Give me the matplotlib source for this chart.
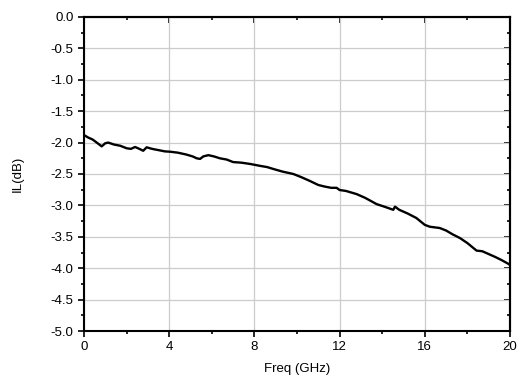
import matplotlib
matplotlib.use("Agg")
import matplotlib.pyplot as plt
from matplotlib.ticker import MultipleLocator

plt.rcParams["font.family"] = ["Liberation Sans", "DejaVu Sans"]
plt.rcParams["axes.unicode_minus"] = False

freq_ghz = [0.0, 0.2, 0.4, 0.6, 0.83, 1.0, 1.14, 1.4, 1.7, 2.0, 2.2, 2.4, 2.6, 2.78, 2.94,
            3.2, 3.5, 3.8, 4.04, 4.4, 4.8, 5.1, 5.29, 5.45, 5.6, 5.84, 6.1, 6.38, 6.7,
            7.0, 7.4, 7.8, 8.26, 8.6, 8.89, 9.3, 9.83, 10.2, 10.6, 11.0, 11.3, 11.6,
            11.86, 12.0, 12.3, 12.8, 13.2, 13.74, 14.1, 14.52, 14.6, 14.8, 15.2, 15.6,
            16.0, 16.24, 16.7, 17.0, 17.3, 17.65, 18.0, 18.43, 18.7, 18.9, 19.3, 19.6,
            19.92, 20.0]
il_db = [-1.88, -1.92, -1.95, -2.0, -2.06, -2.01, -2.0, -2.03, -2.05, -2.09, -2.1, -2.07,
         -2.1, -2.13, -2.075, -2.1, -2.12, -2.14, -2.145, -2.16, -2.19, -2.22, -2.25, -2.26,
         -2.22, -2.2, -2.22, -2.25, -2.27, -2.31, -2.32, -2.34, -2.37, -2.39, -2.42, -2.46,
         -2.5, -2.55, -2.61, -2.675, -2.7, -2.72, -2.72, -2.755, -2.77, -2.82, -2.88,
         -2.98, -3.02, -3.07, -3.02, -3.07, -3.13, -3.2, -3.31, -3.34, -3.36, -3.4, -3.46,
         -3.52, -3.6, -3.72, -3.73, -3.76, -3.82, -3.87, -3.93, -3.95]

fig = plt.figure(figsize=(5.25, 3.85), dpi=100)
ax = fig.add_axes([84 / 525, 1 - 331 / 385, 426 / 525, 314 / 385])

ax.plot(freq_ghz, il_db, color="black", linewidth=1.7)

ax.set_xlim(0, 20)
ax.set_ylim(-5.0, 0.0)
ax.xaxis.set_major_locator(MultipleLocator(4))
ax.xaxis.set_minor_locator(MultipleLocator(2))
ax.yaxis.set_major_locator(MultipleLocator(0.5))
ax.yaxis.set_minor_locator(MultipleLocator(0.25))
ax.yaxis.set_major_formatter(matplotlib.ticker.FormatStrFormatter("%.1f"))

ax.grid(True, which="major", color="#cccccc", linewidth=0.9)
ax.set_axisbelow(True)

for s in ax.spines.values():
    s.set_linewidth(1.5)

ax.tick_params(which="both", direction="out", width=1.2, labelsize=9.5,
               top=False, right=False)
ax.tick_params(which="major", length=4)
ax.tick_params(which="minor", length=2.5)

# inward ticks on top and right edges
ax_top = ax.secondary_xaxis("top")
ax_top.xaxis.set_major_locator(MultipleLocator(4))
ax_top.xaxis.set_minor_locator(MultipleLocator(2))
ax_top.tick_params(which="both", direction="in", width=1.2, labeltop=False)
ax_top.tick_params(which="major", length=4)
ax_top.tick_params(which="minor", length=2.5)
ax_right = ax.secondary_yaxis("right")
ax_right.yaxis.set_major_locator(MultipleLocator(0.5))
ax_right.yaxis.set_minor_locator(MultipleLocator(0.25))
ax_right.tick_params(which="both", direction="in", width=1.2, labelright=False)
ax_right.tick_params(which="major", length=4)
ax_right.tick_params(which="minor", length=2.5)
for a in (ax_top, ax_right):
    for s in a.spines.values():
        s.set_linewidth(1.5)

ax.set_xlabel("Freq (GHz)", fontsize=9.5, labelpad=7)
ax.set_ylabel("IL(dB)", fontsize=9.5, labelpad=19)

fig.savefig("out.png", dpi=100)
plt.close(fig)
